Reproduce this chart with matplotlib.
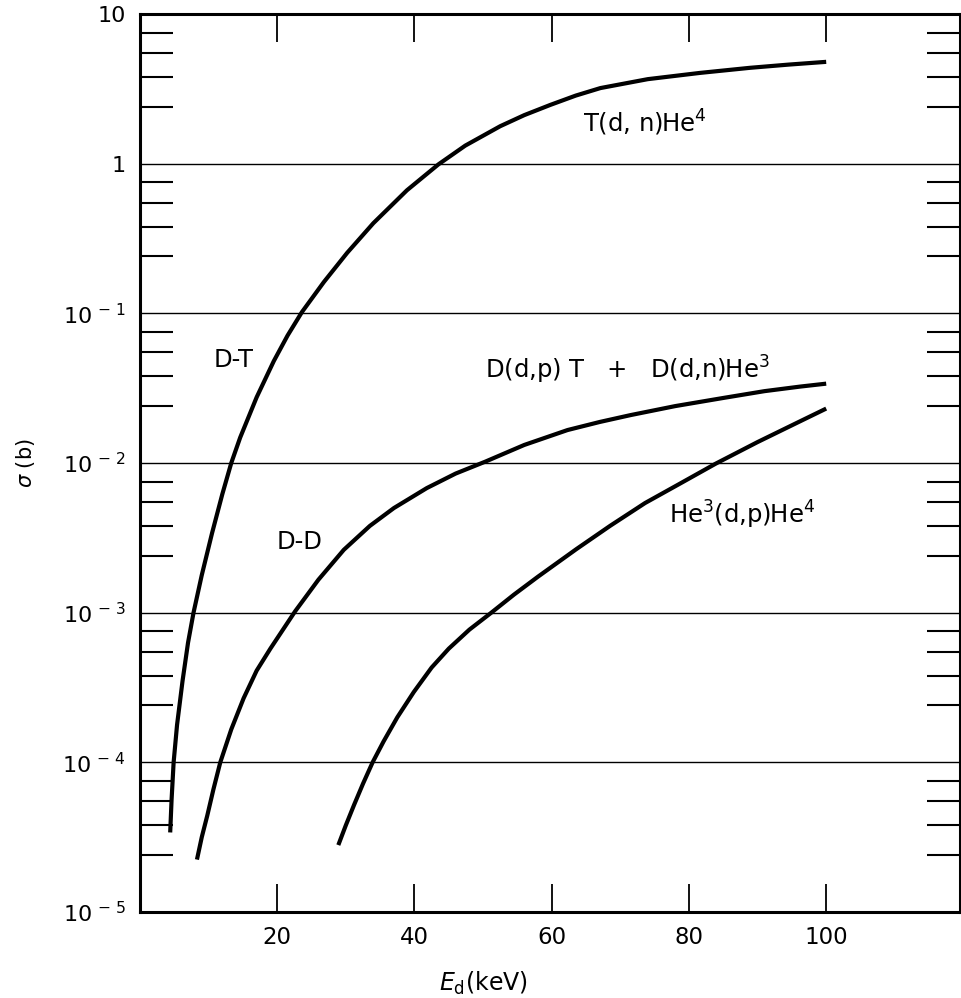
import numpy as np
import matplotlib
matplotlib.use("Agg")
import matplotlib.pyplot as plt
from matplotlib.ticker import FixedLocator, FixedFormatter, NullFormatter

# cross sections, E_d in keV, sigma in barn
dt_E = [4.4, 4.6, 4.9, 5.4, 6.2, 7.0, 7.8, 9.0, 10.5, 12.0, 13.3, 14.6,
        17.0, 19.5, 21.5, 23.6, 26.8, 30.2, 34.0, 38.9, 43.5, 47.4, 52.5,
        56.0, 59.8, 63.5, 67.1, 74.0, 81.6, 88.9, 94.5, 100.0]
dt_sigma = [3.4e-5, 5.6e-5, 1.0e-4, 1.78e-4, 3.5e-4, 6.3e-4, 1.0e-3,
            1.78e-3, 3.4e-3, 6.2e-3, 1.0e-2, 1.48e-2, 2.75e-2, 4.8e-2,
            7.1e-2, 0.102, 0.162, 0.254, 0.40, 0.664, 0.99, 1.32, 1.78,
            2.11, 2.47, 2.85, 3.2, 3.67, 4.04, 4.37, 4.59, 4.79]

dd_E = [8.3, 9.0, 9.8, 10.7, 11.7, 13.3, 15.1, 17.0, 19.0, 22.6, 26.0,
        29.7, 33.5, 37.0, 41.8, 46.0, 50.3, 56.0, 62.3, 67.0, 71.5, 78.0,
        85.0, 91.0, 96.2, 100.0]
dd_sigma = [2.24e-5, 3.16e-5, 4.4e-5, 6.6e-5, 1.0e-4, 1.66e-4, 2.68e-4,
            4.1e-4, 5.75e-4, 1.02e-3, 1.66e-3, 2.63e-3, 3.8e-3, 5.0e-3,
            6.8e-3, 8.5e-3, 1.02e-2, 1.32e-2, 1.66e-2, 1.88e-2, 2.09e-2,
            2.4e-2, 2.72e-2, 3.02e-2, 3.24e-2, 3.39e-2]

he3_E = [28.9, 30.0, 31.2, 32.5, 33.9, 35.5, 37.5, 39.9, 42.5, 45.0, 48.0,
         51.2, 54.5, 58.0, 63.6, 68.5, 73.6, 78.5, 83.9, 90.0, 96.2, 100.0]
he3_sigma = [2.8e-5, 3.8e-5, 5.2e-5, 7.2e-5, 1.0e-4, 1.38e-4, 2.0e-4,
             2.95e-4, 4.3e-4, 5.75e-4, 7.7e-4, 1.0e-3, 1.32e-3, 1.74e-3,
             2.66e-3, 3.8e-3, 5.4e-3, 7.2e-3, 9.9e-3, 1.38e-2, 1.9e-2,
             2.31e-2]

x_ticks = [20, 40, 60, 80, 100]
y_ticks = [1e-5, 1e-4, 1e-3, 1e-2, 1e-1, 1, 10]
y_ticklabels = [r"$10^{\,-\,5}$", r"$10^{\,-\,4}$", r"$10^{\,-\,3}$",
                r"$10^{\,-\,2}$", r"$10^{\,-\,1}$", "1", "10"]
# odd little ticks between decades as printed
minor_mant = [2.4, 3.8, 5.5, 7.5]


def main():
    plt.rcParams["font.family"] = "DejaVu Sans"
    plt.rcParams["mathtext.fontset"] = "dejavusans"

    fig = plt.figure(figsize=(9.61, 9.98), dpi=100)
    ax = fig.add_axes([140 / 961, 1 - 912 / 998, 820 / 961, 898 / 998])

    for E, s in [(dt_E, dt_sigma), (dd_E, dd_sigma), (he3_E, he3_sigma)]:
        ax.plot(E, s, color="black", lw=3.0, solid_capstyle="butt",
                solid_joinstyle="round")

    ax.set_yscale("log")
    ax.set_xlim(0, 119.5)
    ax.set_ylim(1e-5, 10)

    minors = [m * 10.0 ** p for p in range(-5, 1) for m in minor_mant]
    ax.yaxis.set_major_locator(FixedLocator(y_ticks))
    ax.yaxis.set_major_formatter(FixedFormatter(y_ticklabels))
    ax.yaxis.set_minor_locator(FixedLocator(minors))
    ax.yaxis.set_minor_formatter(NullFormatter())
    ax.xaxis.set_major_locator(FixedLocator(x_ticks))
    ax.xaxis.set_minor_locator(FixedLocator([]))

    ax.tick_params(axis="y", which="major", length=0, pad=10, labelsize=16)
    ax.tick_params(axis="y", which="minor", direction="in", length=24,
                   width=1.5, left=True, right=True)
    ax.tick_params(axis="x", which="major", direction="in", length=20,
                   width=1.3, top=True, bottom=True, pad=10, labelsize=16.5)

    ax.grid(True, axis="y", which="major", color="black", lw=1.0)
    for sp in ax.spines.values():
        sp.set_linewidth(2.2)

    ax.set_xlabel(r"$E_{\rm d}$(keV)", fontsize=17)
    ax.xaxis.set_label_coords(50 / 119.5, -0.064)
    ax.set_ylabel(r"$\sigma$ (b)", fontsize=15)
    ax.yaxis.set_label_coords(-0.1256, 0.5)

    fs = 17.5
    ax.text(64.5, 1.86, r"T(d, n)He$^4$", fontsize=fs, va="center")
    ax.text(13.6, 0.049, "D-T", fontsize=fs, ha="center", va="center")
    ax.text(50.3, 0.042, r"D(d,p) T   +   D(d,n)He$^3$", fontsize=fs,
            va="center")
    ax.text(23.2, 2.95e-3, "D-D", fontsize=fs, ha="center", va="center")
    ax.text(77.1, 4.5e-3, r"He$^3$(d,p)He$^4$", fontsize=fs, va="center")

    fig.savefig("out.png", dpi=100)


main()
